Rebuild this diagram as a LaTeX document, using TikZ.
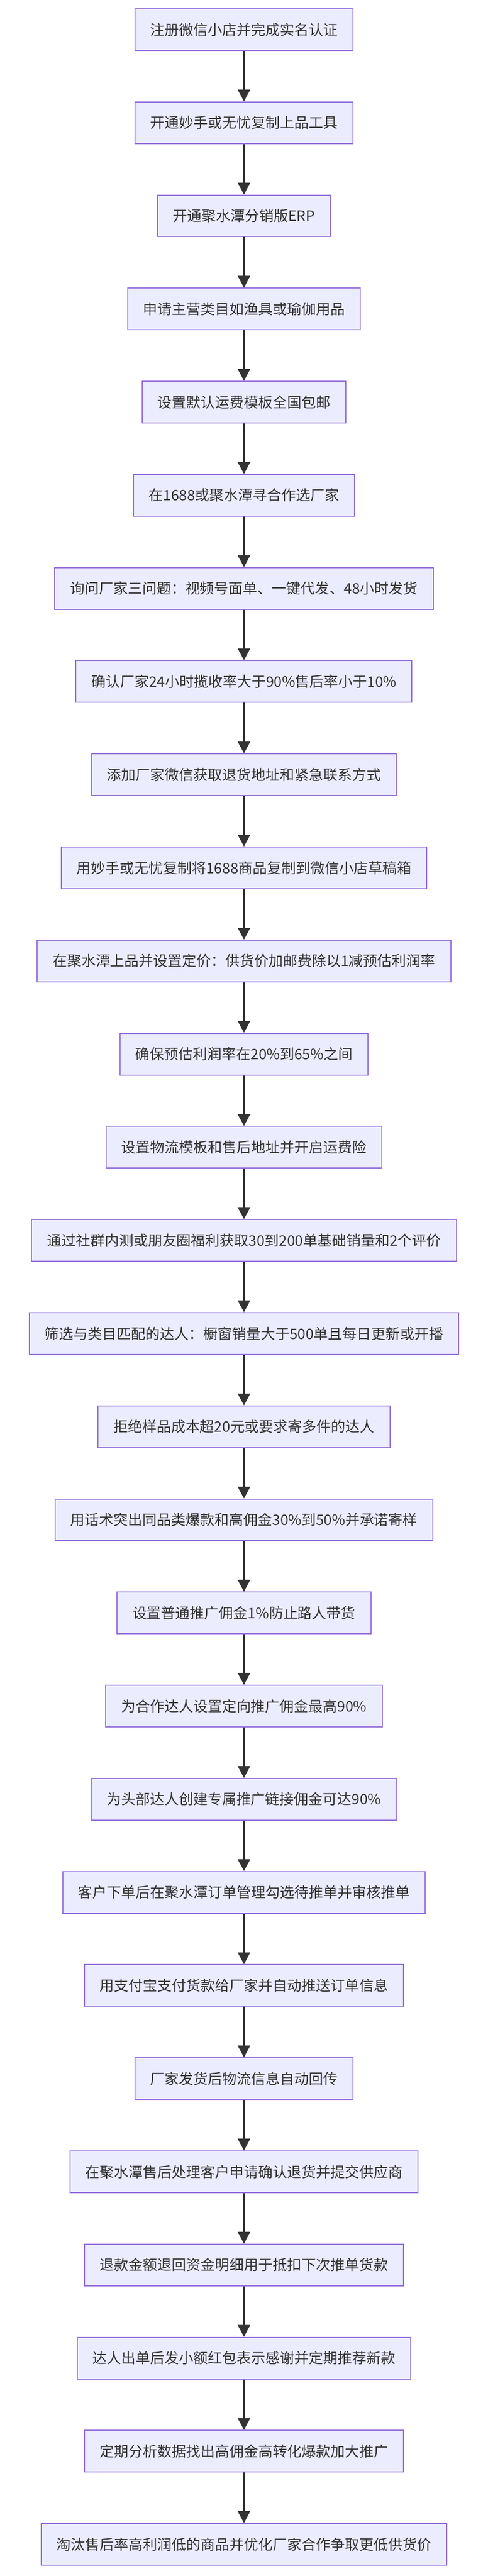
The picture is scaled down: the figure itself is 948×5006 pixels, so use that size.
\documentclass[tikz,border=0pt]{standalone}
\usepackage{fontspec}
\setmainfont{Noto Sans CJK SC}
\usetikzlibrary{arrows.meta}
\definecolor{boxfill}{HTML}{ECECFF}
\definecolor{boxline}{HTML}{9370DB}
\definecolor{ink}{HTML}{333333}
\tikzset{
  stepbox/.style={draw=boxline,fill=boxfill,line width=2pt,minimum height=81pt,inner xsep=30pt,inner ysep=0pt,text=ink,font=\fontsize{28pt}{32pt}\selectfont},
  flow/.style={draw=ink,line width=2.4pt,-{Triangle[length=23pt,width=24pt]}}
}
\begin{document}
\begin{tikzpicture}[x=1pt,y=1pt]
\useasboundingbox (0,0) rectangle (948,-5006);
\foreach \t [count=\i] in {
注册微信小店并完成实名认证,
开通妙手或无忧复制上品工具,
开通聚水潭分销版ERP,
申请主营类目如渔具或瑜伽用品,
设置默认运费模板全国包邮,
在1688或聚水潭寻合作选厂家,
询问厂家三问题：视频号面单、一键代发、48小时发货,
确认厂家24小时揽收率大于90\%售后率小于10\%,
添加厂家微信获取退货地址和紧急联系方式,
用妙手或无忧复制将1688商品复制到微信小店草稿箱,
在聚水潭上品并设置定价：供货价加邮费除以1减预估利润率,
确保预估利润率在20\%到65\%之间,
设置物流模板和售后地址并开启运费险,
通过社群内测或朋友圈福利获取30到200单基础销量和2个评价,
筛选与类目匹配的达人：橱窗销量大于500单且每日更新或开播,
拒绝样品成本超20元或要求寄多件的达人,
用话术突出同品类爆款和高佣金30\%到50\%并承诺寄样,
设置普通推广佣金1\%防止路人带货,
为合作达人设置定向推广佣金最高90\%,
为头部达人创建专属推广链接佣金可达90\%,
客户下单后在聚水潭订单管理勾选待推单并审核推单,
用支付宝支付货款给厂家并自动推送订单信息,
厂家发货后物流信息自动回传,
在聚水潭售后处理客户申请确认退货并提交供应商,
退款金额退回资金明细用于抵扣下次推单货款,
达人出单后发小额红包表示感谢并定期推荐新款,
定期分析数据找出高佣金高转化爆款加大推广,
淘汰售后率高利润低的商品并优化厂家合作争取更低供货价}
{
  \node[stepbox] (n\i) at (474,{-57.5-181*(\i-1)}) {\t};
}
\foreach \i [evaluate=\i as \j using int(\i+1)] in {1,...,27}
  \draw[flow] (n\i.south) -- (n\j.north);
\end{tikzpicture}
\end{document}
